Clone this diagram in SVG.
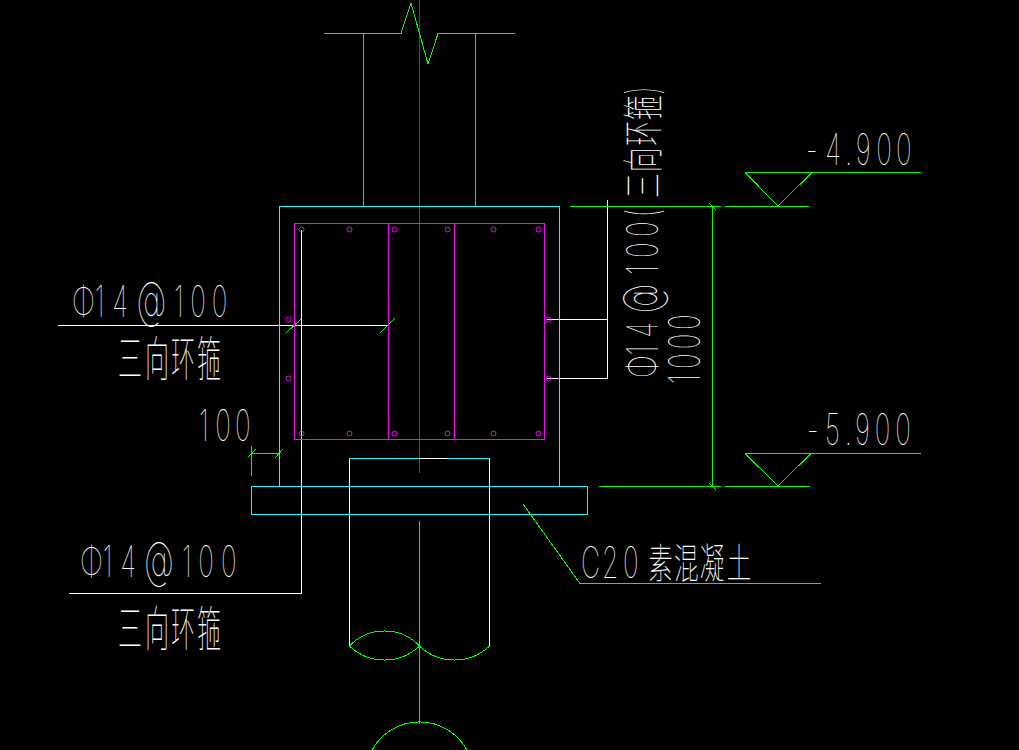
<svg xmlns="http://www.w3.org/2000/svg" width="1019" height="750" viewBox="0 0 1019 750">
<style>
path,.box{shape-rendering:crispEdges;stroke-width:1;fill:none}
circle{stroke-width:1;fill:none}
.bg{fill:#000}
.g{stroke:#0f0}
.c{stroke:#0ff}
.m{stroke:#f0f}
.w{stroke:#fff}
.r{stroke:#f00}
text{font-family:Inter,"Noto Sans CJK SC",sans-serif;fill:#fff;font-size:44px;font-weight:100}
.cjk{font-family:"Noto Sans CJK SC",sans-serif;font-size:48px;font-weight:100}
.cj{font-family:"Noto Sans CJK SC",sans-serif;font-size:41px;font-weight:100}
.at{font-size:50px}
</style>
<rect class="bg" width="1019" height="750"/>
<g id="connectors">
<path class="r" d="M419.500 0V473"/>
<path class="g" d="M419.500 521V724"/>
<path class="g" d="M324 33.500H401L411 3 428 64 438 33.500H515M363.500 33V206M475.500 33V206"/>
<path class="w" d="M301.500 230V593.500H69M58 325.500H388M547 319.500H607.500V378.500H547M607.500 379V200"/>
<path class="g" d="M570 206.500H721M725 206.500H809M745 172.500H921M745 172.500L778 206 812 172.500M599 486.500H721M725 486.500H810M745 453.500H921M745 453.500L778 486 811 453.500M712.500 206V486M709 203L716 210M709 483L716 490"/>
<path class="g" d="M251.500 446V476M251.500 453.500H280M248 457L256 449M275 458L283 449M286 333L301 319M380 333L395 318"/>
<path class="g" d="M523 504L580 583.500H821"/>
</g>
<g id="pile">
<path class="w" d="M349.500 459V646M489.500 459V646M419 458.500H447"/>
<path class="g" d="M349.500 646A48.300 48.300 0 0 1 419.500 646A50.700 50.700 0 0 0 489.500 646M349.500 646A50.700 50.700 0 0 0 419.500 646M372 750A54.200 54.200 0 0 1 467 750"/>
</g>
<g id="cap">
<rect class="c box" x="279.500" y="206.500" width="280" height="280"/>
<rect class="c box" x="251.500" y="486.500" width="336" height="28"/>
<path class="c" d="M349 458.500H419M447 458.500H490"/>
</g>
<g id="rebar">
<rect class="m box" x="294.500" y="223.500" width="250" height="216"/>
<path class="m" d="M388.500 223V439M454.500 223V439"/>
<g class="m">
<circle cx="301.500" cy="229.500" r="2.500"/><circle cx="349.500" cy="229.500" r="2.500"/><circle cx="394.500" cy="229.500" r="2.500"/><circle cx="447.500" cy="229.500" r="2.500"/><circle cx="493.500" cy="229.500" r="2.500"/><circle cx="538.500" cy="229.500" r="2.500"/>
<circle cx="301.500" cy="433.500" r="2.500"/><circle cx="349.500" cy="433.500" r="2.500"/><circle cx="394.500" cy="433.500" r="2.500"/><circle cx="447.500" cy="433.500" r="2.500"/><circle cx="493.500" cy="433.500" r="2.500"/><circle cx="538.500" cy="433.500" r="2.500"/>
<circle cx="288.500" cy="319.500" r="2.500"/><circle cx="288.500" cy="378.500" r="2.500"/><circle cx="548.500" cy="319.500" r="2.500"/><circle cx="548.500" cy="378.500" r="2.500"/>
</g>
</g>
<g id="labels">
<text transform="translate(72 317) scale(0.6 1)" x="0 38 67 108 170 197 233">Φ14<tspan class="at">@</tspan>100</text>
<text class="cjk" transform="translate(118 376) scale(0.5 1)" x="0 54 106 158">三向环箍</text>
<text transform="translate(199 441) scale(0.6 1)" x="0 27 60">100</text>
<text transform="translate(80 577) scale(0.6 1)" x="0 38 67 107 170 197 235">Φ14<tspan class="at">@</tspan>100</text>
<text class="cjk" transform="translate(118 646) scale(0.5 1)" x="0 54 106 158">三向环箍</text>
<text transform="translate(581 578) scale(0.6 1)" x="0 35 70 90 112 155 198 243">C20<tspan class="cj"> 素混凝土</tspan></text>
<text transform="translate(806 165) scale(0.6 1)" x="0 32 65 83 117 150">-4.900</text>
<text transform="translate(807 445) scale(0.6 1)" x="0 30 63 80 113 147">-5.900</text>
<text transform="translate(658 378) rotate(-90) scale(0.6 1)" x="0 38 67 108 172 200 235 268 300 343 387 430 472">Φ14<tspan class="at">@</tspan>100(<tspan class="cj">三向环箍</tspan>)</text>
<text transform="translate(700 384) rotate(-90) scale(0.6 1)" x="0 25 58 90">1000</text>
</g>
</svg>
